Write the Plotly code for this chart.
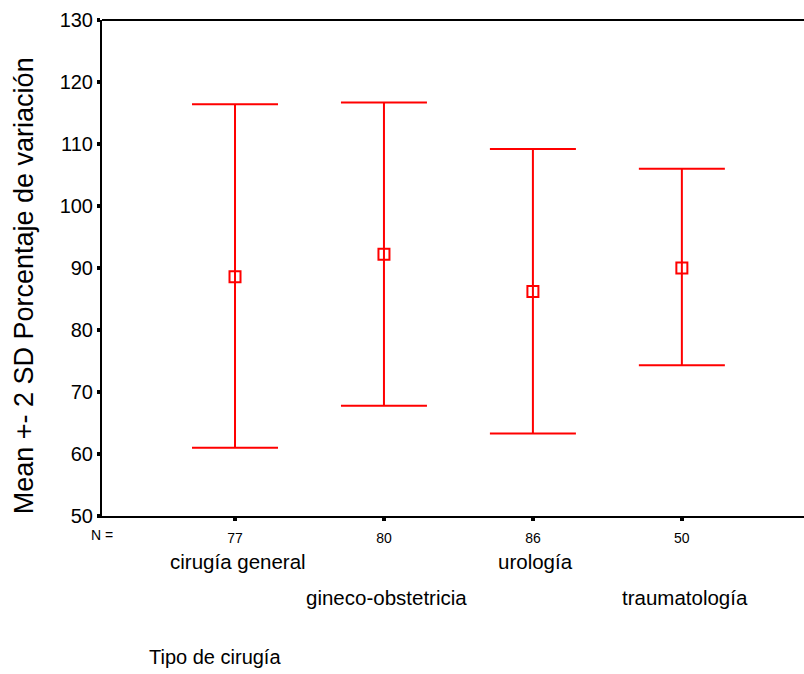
import plotly.graph_objects as go

# Surgery types, sample sizes and the mean +- 2 SD of percentage variation
categories = ["cirugía general", "gineco-obstetricia", "urología", "traumatología"]
counts = [77, 80, 86, 50]
means = [88.6, 92.2, 86.2, 90.0]
upper = [116.4, 116.7, 109.2, 106.0]
lower = [61.0, 67.8, 63.3, 74.3]

positions = list(range(1, len(categories) + 1))
plus = [u - m for u, m in zip(upper, means)]
minus = [m - l for m, l in zip(means, lower)]

RED = "#ff0000"
FONT = "Liberation Sans, Arial, sans-serif"

fig = go.Figure()
fig.add_trace(go.Scatter(
    x=positions,
    y=means,
    mode="markers",
    marker=dict(symbol="square-open", size=11, color=RED, line=dict(width=2, color=RED)),
    error_y=dict(type="data", symmetric=False, array=plus, arrayminus=minus,
                 color=RED, thickness=2, width=43),
    showlegend=False,
    hoverinfo="skip",
))

fig.update_layout(
    width=804, height=674,
    margin=dict(l=102, r=0, t=20, b=158),
    paper_bgcolor="white", plot_bgcolor="white",
    font=dict(family=FONT, color="#000000"),
    xaxis=dict(
        range=[0.107, 4.82],
        tickmode="array", tickvals=positions, ticktext=[str(c) for c in counts],
        tickfont=dict(size=14),
        ticks="outside", ticklen=3, tickwidth=4, tickcolor="#000000",
        ticklabelstandoff=5,
        showline=True, linecolor="#000000", linewidth=2,
        showgrid=False, zeroline=False, fixedrange=True,
    ),
    yaxis=dict(
        range=[50, 130],
        tickvals=[50, 60, 70, 80, 90, 100, 110, 120, 130],
        tickfont=dict(size=20),
        ticks="outside", ticklen=3, tickwidth=4, tickcolor="#000000",
        showline=True, linecolor="#000000", linewidth=2,
        showgrid=False, zeroline=False, fixedrange=True,
    ),
)

# Top frame line
fig.add_shape(type="line", xref="paper", yref="paper", x0=0, x1=1, y0=1, y1=1,
              line=dict(color="#000000", width=2))

# Vertical axis title
fig.add_annotation(text="Mean +- 2 SD Porcentaje de variación", textangle=-90,
                   xref="paper", yref="paper", x=0, y=0.463, xshift=-78,
                   xanchor="center", yanchor="middle", showarrow=False,
                   font=dict(size=27))

# "N =" label beside the sample sizes
fig.add_annotation(text="N =", xref="paper", yref="paper", x=0, y=0,
                   xanchor="center", yanchor="middle", yshift=-19,
                   showarrow=False, font=dict(size=14))

# Category names staggered on two rows
for i, (pos, name) in enumerate(zip(positions, categories)):
    shift = -45 if i % 2 == 0 else -81
    fig.add_annotation(text=name, x=pos, xref="x", yref="paper", y=0,
                       xanchor="center", yanchor="middle",
                       yshift=shift, xshift=3, showarrow=False, font=dict(size=20.5))

# Horizontal axis title
fig.add_annotation(text="Tipo de cirugía", xref="paper", yref="paper", x=0, y=0,
                   xanchor="left", yanchor="middle", xshift=45, yshift=-141,
                   showarrow=False, font=dict(size=20))

fig.write_html("out.html")
